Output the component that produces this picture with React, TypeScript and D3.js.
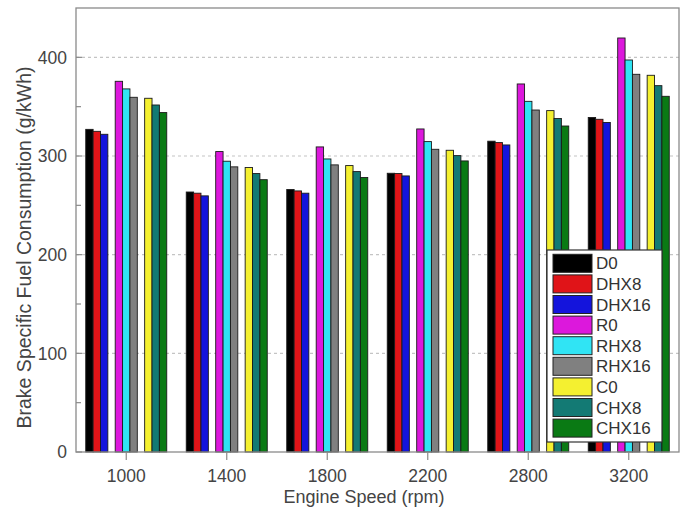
import React from "react";
import * as d3 from "d3";

// Engine speeds (rpm) on the x axis
const speeds = ["1000", "1400", "1800", "2200", "2800", "3200"];

// Fuel blends, in legend order
const blends = ["D0", "DHX8", "DHX16", "R0", "RHX8", "RHX16", "C0", "CHX8", "CHX16"];

// Brake specific fuel consumption (g/kWh) for each blend at each speed
const D0 = [327, 263.5, 266, 282.5, 315, 339];
const DHX8 = [325, 262.3, 264.6, 282.2, 313.6, 337.2];
const DHX16 = [322, 259.6, 262.3, 279.8, 311.2, 334];
const R0 = [375.7, 304.5, 309.2, 327.4, 373, 419.6];
const RHX8 = [368, 294.7, 297, 314.6, 355.4, 397.3];
const RHX16 = [359.5, 289, 291, 306.8, 346.6, 382.8];
const C0 = [358.5, 288.3, 290.3, 305.8, 346, 381.8];
const CHX8 = [351.7, 282.2, 284.2, 300.4, 338, 371.3];
const CHX16 = [344, 276, 278.2, 295, 330.4, 360.5];

const seriesValues = [D0, DHX8, DHX16, R0, RHX8, RHX16, C0, CHX8, CHX16];

const colors = [
  "#000000", "#e01418", "#1414dc", "#dc18dc", "#30e4f4",
  "#808080", "#f4f030", "#137a74", "#0a7a14",
];

const yTicks = [0, 100, 200, 300, 400];
const yMinorTicks = [50, 150, 250, 350];

const W = 685;
const H = 509;
const plot = { left: 76, right: 679, top: 8, bottom: 452 };

// Bars are grouped in threes; slots "g1" and "g2" stay empty as spacers
const slots = ["D0", "DHX8", "DHX16", "g1", "R0", "RHX8", "RHX16", "g2", "C0", "CHX8", "CHX16"];

export default function App() {
  const x = d3.scaleBand<string>().domain(speeds).range([plot.left, plot.right]).padding(0);
  const bw = x.bandwidth();
  const groupW = 81;
  const inner = d3
    .scaleBand<string>()
    .domain(slots)
    .range([(bw - groupW) / 2, (bw + groupW) / 2])
    .padding(0);
  const y = d3.scaleLinear().domain([0, 450]).range([plot.bottom, plot.top]);

  const font = "Arial, 'Liberation Sans', sans-serif";
  const textColor = "#444";

  const legend = { x: 547, y: 250, w: 115, h: 192 };
  const rowH = 20.6;

  return (
    <svg
      width={W}
      height={H}
      style={{ position: "absolute", left: 0, top: 0, background: "#fff" }}
      fontFamily={font}
    >
      <rect x={0} y={0} width={W} height={H} fill="#fff" />

      {/* dashed gridlines */}
      {yTicks
        .filter((t) => t > 0)
        .map((t) => (
          <line
            key={"g" + t}
            x1={plot.left}
            x2={plot.right}
            y1={y(t)}
            y2={y(t)}
            stroke="#c4c4c4"
            strokeWidth={1.2}
            strokeDasharray="3,3"
          />
        ))}

      {/* bars */}
      {speeds.map((s, i) => (
        <g key={s} transform={`translate(${x(s)},0)`}>
          {blends.map((b, j) => {
            const v = seriesValues[j][i];
            return (
              <rect
                key={b}
                x={inner(b)}
                y={y(v)}
                width={inner.bandwidth()}
                height={y(0) - y(v)}
                fill={colors[j]}
                stroke="#1a1a1a"
                strokeWidth={0.9}
              />
            );
          })}
        </g>
      ))}

      {/* frame */}
      <rect
        x={plot.left}
        y={plot.top}
        width={plot.right - plot.left}
        height={plot.bottom - plot.top}
        fill="none"
        stroke="#8a8a8a"
        strokeWidth={1.3}
      />

      {/* y ticks */}
      {yTicks.map((t) => (
        <g key={"yt" + t}>
          <line x1={plot.left} x2={plot.left + 6} y1={y(t)} y2={y(t)} stroke="#8a8a8a" strokeWidth={1.2} />
          <text
            x={plot.left - 9}
            y={y(t)}
            dy="0.36em"
            textAnchor="end"
            fontSize={17.5}
            fill={textColor}
          >
            {t}
          </text>
        </g>
      ))}
      {yMinorTicks.map((t) => (
        <line key={"ym" + t} x1={plot.left} x2={plot.left + 5} y1={y(t)} y2={y(t)} stroke="#8a8a8a" strokeWidth={1.2} />
      ))}

      {/* x ticks */}
      {speeds.map((s) => {
        const cx = (x(s) as number) + bw / 2;
        return (
          <g key={"xt" + s}>
            <line x1={cx} x2={cx} y1={plot.bottom} y2={plot.bottom + 8} stroke="#8a8a8a" strokeWidth={1.2} />
            <text x={cx} y={482} textAnchor="middle" fontSize={17.5} fill={textColor}>
              {s}
            </text>
          </g>
        );
      })}

      {/* axis titles */}
      <text x={364} y={503} textAnchor="middle" fontSize={18} fill={textColor}>
        Engine Speed (rpm)
      </text>
      <text
        transform={`translate(31,${247.5}) rotate(-90)`}
        textAnchor="middle"
        fontSize={19.5}
        fill={textColor}
      >
        Brake Specific Fuel Consumption (g/kWh)
      </text>

      {/* legend */}
      <g>
        <rect x={legend.x} y={legend.y} width={legend.w} height={legend.h} fill="#fff" stroke="#333" strokeWidth={1.2} />
        {blends.map((b, j) => {
          const cy = legend.y + 13.3 + j * rowH;
          return (
            <g key={"lg" + b}>
              <rect x={553} y={cy - 9} width={39} height={18} fill={colors[j]} stroke="#222" strokeWidth={1} />
              <text x={596} y={cy} dy="0.36em" fontSize={17} fill="#333">
                {b}
              </text>
            </g>
          );
        })}
      </g>
    </svg>
  );
}
